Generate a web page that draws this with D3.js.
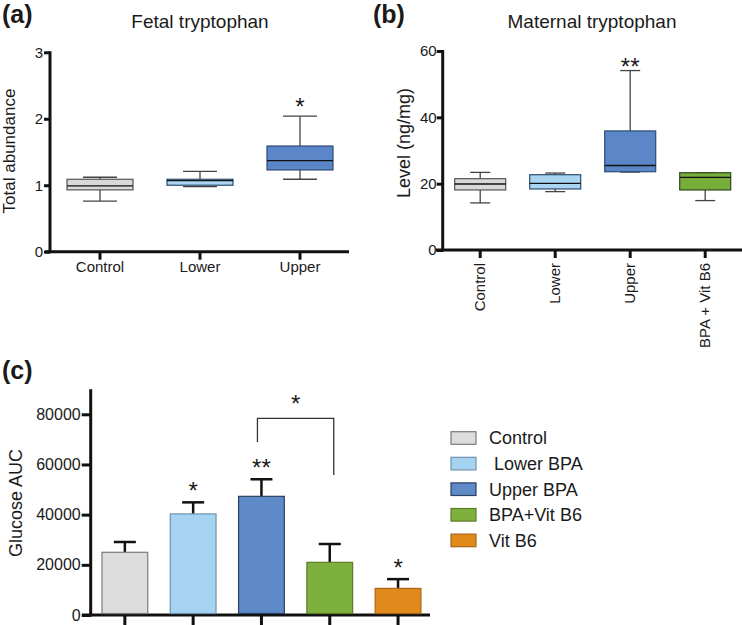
<!DOCTYPE html>
<html>
<head>
<meta charset="utf-8">
<script src="https://cdn.jsdelivr.net/npm/d3@7"></script>
<style>
  html, body { margin: 0; padding: 0; background: #fff; }
  svg { display: block; font-family: Arial, "Liberation Sans", Helvetica, sans-serif; }
  text { fill: #1a1a1a; }
</style>
</head>
<body>
<svg id="chart" width="742" height="625"></svg>
<script>
// ---------- Data ----------
// (a) Fetal tryptophan (box plots)
const fetalCats   = ["Control", "Lower", "Upper"];
const fetalMin    = [0.76, 0.98, 1.09];
const fetalQ1     = [0.93, 1.00, 1.23];
const fetalMedian = [0.99, 1.07, 1.37];
const fetalQ3     = [1.09, 1.09, 1.59];
const fetalMax    = [1.12, 1.21, 2.04];
const fetalColors = ["#d9d9d9", "#a9d4f2", "#5b86c7"];
const fetalStroke = ["#555555", "#2c4b6b", "#2e4a78"];
const fetalStars  = ["", "", "*"];
const fetalTicks  = [0, 1, 2, 3];

// (b) Maternal tryptophan (box plots)
const maternalCats   = ["Control", "Lower", "Upper", "BPA + Vit B6"];
const maternalMin    = [14.2, 17.6, 23.5, 14.9];
const maternalQ1     = [18.1, 18.4, 23.6, 18.1];
const maternalMedian = [19.9, 20.1, 25.5, 21.9];
const maternalQ3     = [21.5, 22.7, 35.9, 23.3];
const maternalMax    = [23.4, 23.2, 54.1, 23.3];
const maternalColors = ["#d9d9d9", "#a9d4f2", "#5b86c7", "#77ad3b"];
const maternalStroke = ["#555555", "#2c4b6b", "#2e4a78", "#2f4a1a"];
const maternalStars  = ["", "", "**", ""];
const maternalTicks  = [0, 20, 40, 60];

// (c) Glucose AUC (bar chart)
const glucoseCats   = ["Control", "Lower BPA", "Upper BPA", "BPA+Vit B6", "Vit B6"];
const glucoseMean   = [25000, 40300, 47300, 21000, 10600];
const glucoseErr    = [4100, 4600, 6800, 7300, 3700];
const glucoseColors = ["#dcdcdc", "#a6d3f2", "#5f8ac8", "#7db03c", "#e08a1c"];
const glucoseStroke = ["#7a7a7a", "#6f93ad", "#2b3f5e", "#5a7d2a", "#a8661a"];
const glucoseStars  = ["", "*", "**", "", "*"];
const glucoseTicks  = [0, 20000, 40000, 60000, 80000];
const legendLabels  = ["Control", " Lower BPA", "Upper BPA", "BPA+Vit B6", "Vit B6"];
const bracketPair   = [2, 3];            // Upper BPA vs BPA+Vit B6
const bracketLegs   = [69000, 55800];    // lower ends of bracket legs (value units)
const bracketTop    = 78400;

const svg = d3.select("#chart");
const AXC = "#111";

function styleAxis(g, fs) {
  g.select(".domain").remove();
  g.selectAll(".tick line").attr("stroke", AXC).attr("stroke-width", 3);
  g.selectAll(".tick text").attr("font-size", fs).attr("fill", "#1a1a1a");
}

// ---------- Panel (a) ----------
(function () {
  const x = d3.scaleBand().domain(fetalCats).range([50, 350]).padding(0);
  const y = d3.scaleLinear().domain([0, 3]).range([251.7, 52.3]);
  const bw = x.bandwidth() * 0.66;
  const g = svg.append("g");

  g.append("text").attr("x", 2).attr("y", 23).attr("font-size", 25).attr("font-weight", "bold").text("(a)");
  g.append("text").attr("x", 200).attr("y", 28).attr("text-anchor", "middle").attr("font-size", 19).text("Fetal tryptophan");
  g.append("text").attr("transform", "translate(15,151) rotate(-90)").attr("text-anchor", "middle").attr("font-size", 17).text("Total abundance");

  const ya = g.append("g").attr("transform", "translate(50,0)")
    .call(d3.axisLeft(y).tickValues(fetalTicks).tickSize(6).tickSizeOuter(0).tickPadding(1).tickFormat(d3.format("d")));
  styleAxis(ya, 15);
  const xa = g.append("g").attr("transform", `translate(0,${y(0)})`)
    .call(d3.axisBottom(x).tickSize(8).tickSizeOuter(0).tickPadding(2));
  styleAxis(xa, 15);
  g.append("line").attr("x1", 50).attr("x2", 50).attr("y1", y(3) - 1).attr("y2", y(0) + 1.5).attr("stroke", AXC).attr("stroke-width", 3);
  g.append("line").attr("x1", 45).attr("x2", 349).attr("y1", y(0)).attr("y2", y(0)).attr("stroke", AXC).attr("stroke-width", 3);

  fetalCats.forEach((c, i) => {
    const cx = x(c) + x.bandwidth() / 2;
    const b = g.append("g");
    b.append("line").attr("x1", cx).attr("x2", cx).attr("y1", y(fetalMax[i])).attr("y2", y(fetalQ3[i])).attr("stroke", "#444").attr("stroke-width", 1.3);
    b.append("line").attr("x1", cx).attr("x2", cx).attr("y1", y(fetalQ1[i])).attr("y2", y(fetalMin[i])).attr("stroke", "#444").attr("stroke-width", 1.3);
    b.append("line").attr("x1", cx - 17).attr("x2", cx + 17).attr("y1", y(fetalMax[i])).attr("y2", y(fetalMax[i])).attr("stroke", "#444").attr("stroke-width", 1.3);
    b.append("line").attr("x1", cx - 17).attr("x2", cx + 17).attr("y1", y(fetalMin[i])).attr("y2", y(fetalMin[i])).attr("stroke", "#444").attr("stroke-width", 1.3);
    b.append("rect").attr("x", cx - bw / 2).attr("y", y(fetalQ3[i])).attr("width", bw).attr("height", y(fetalQ1[i]) - y(fetalQ3[i]))
      .attr("fill", fetalColors[i]).attr("stroke", fetalStroke[i]).attr("stroke-width", 1.2);
    b.append("line").attr("x1", cx - bw / 2).attr("x2", cx + bw / 2).attr("y1", y(fetalMedian[i])).attr("y2", y(fetalMedian[i])).attr("stroke", "#111").attr("stroke-width", 1.4);
    if (fetalStars[i]) {
      g.append("text").attr("x", cx).attr("y", y(fetalMax[i]) - 1).attr("text-anchor", "middle").attr("font-size", 24).text(fetalStars[i]);
    }
  });
})();

// ---------- Panel (b) ----------
(function () {
  const x = d3.scaleBand().domain(maternalCats).range([442.7, 742.7]).padding(0);
  const y = d3.scaleLinear().domain([0, 60]).range([250, 51]);
  const bw = x.bandwidth() * 0.68;
  const g = svg.append("g");

  g.append("text").attr("x", 373).attr("y", 23).attr("font-size", 25).attr("font-weight", "bold").text("(b)");
  g.append("text").attr("x", 592).attr("y", 28).attr("text-anchor", "middle").attr("font-size", 19).text("Maternal tryptophan");
  g.append("text").attr("transform", "translate(410,143) rotate(-90)").attr("text-anchor", "middle").attr("font-size", 18).text("Level (ng/mg)");

  const ya = g.append("g").attr("transform", "translate(442.7,0)")
    .call(d3.axisLeft(y).tickValues(maternalTicks).tickSize(6).tickSizeOuter(0).tickPadding(0).tickFormat(d3.format("d")));
  styleAxis(ya, 15);
  const xa = g.append("g").attr("transform", `translate(0,${y(0)})`)
    .call(d3.axisBottom(x).tickSize(8).tickSizeOuter(0));
  styleAxis(xa, 15);
  xa.selectAll(".tick text").attr("transform", "rotate(-90)").attr("text-anchor", "end")
    .attr("x", -13).attr("y", 0).attr("dy", "0.35em");
  g.append("line").attr("x1", 442.7).attr("x2", 442.7).attr("y1", y(60) - 1).attr("y2", y(0) + 1.5).attr("stroke", AXC).attr("stroke-width", 3);
  g.append("line").attr("x1", 436).attr("x2", 742).attr("y1", y(0)).attr("y2", y(0)).attr("stroke", AXC).attr("stroke-width", 3);

  maternalCats.forEach((c, i) => {
    const cx = x(c) + x.bandwidth() / 2;
    const b = g.append("g");
    b.append("line").attr("x1", cx).attr("x2", cx).attr("y1", y(maternalMax[i])).attr("y2", y(maternalQ3[i])).attr("stroke", "#444").attr("stroke-width", 1.3);
    b.append("line").attr("x1", cx).attr("x2", cx).attr("y1", y(maternalQ1[i])).attr("y2", y(maternalMin[i])).attr("stroke", "#444").attr("stroke-width", 1.3);
    b.append("line").attr("x1", cx - 10).attr("x2", cx + 10).attr("y1", y(maternalMax[i])).attr("y2", y(maternalMax[i])).attr("stroke", "#444").attr("stroke-width", 1.3);
    b.append("line").attr("x1", cx - 10).attr("x2", cx + 10).attr("y1", y(maternalMin[i])).attr("y2", y(maternalMin[i])).attr("stroke", "#444").attr("stroke-width", 1.3);
    b.append("rect").attr("x", cx - bw / 2).attr("y", y(maternalQ3[i])).attr("width", bw).attr("height", y(maternalQ1[i]) - y(maternalQ3[i]))
      .attr("fill", maternalColors[i]).attr("stroke", maternalStroke[i]).attr("stroke-width", 1.2);
    b.append("line").attr("x1", cx - bw / 2).attr("x2", cx + bw / 2).attr("y1", y(maternalMedian[i])).attr("y2", y(maternalMedian[i])).attr("stroke", "#111").attr("stroke-width", 1.4);
    if (maternalStars[i]) {
      g.append("text").attr("x", cx).attr("y", y(maternalMax[i]) + 4).attr("text-anchor", "middle").attr("font-size", 24).text(maternalStars[i]);
    }
  });
})();

// ---------- Panel (c) ----------
(function () {
  const x = d3.scaleBand().domain(glucoseCats).range([90.7, 432.2]).padding(0);
  const y = d3.scaleLinear().domain([0, 90000]).range([615, 389.2]);
  const bw = x.bandwidth() * 0.67;
  const g = svg.append("g");

  g.append("text").attr("x", 2).attr("y", 379).attr("font-size", 25).attr("font-weight", "bold").text("(c)");
  g.append("text").attr("transform", "translate(22,503) rotate(-90)").attr("text-anchor", "middle").attr("font-size", 18).text("Glucose AUC");

  const ya = g.append("g").attr("transform", "translate(90.7,0)")
    .call(d3.axisLeft(y).tickValues(glucoseTicks).tickSize(9).tickSizeOuter(0).tickPadding(1).tickFormat(d3.format("d")));
  styleAxis(ya, 16);
  const xa = g.append("g").attr("transform", `translate(0,${y(0)})`)
    .call(d3.axisBottom(x).tickSize(12).tickSizeOuter(0).tickFormat(""));
  styleAxis(xa, 16);
  g.append("line").attr("x1", 90.7).attr("x2", 90.7).attr("y1", y(90000)).attr("y2", y(0) + 1.5).attr("stroke", AXC).attr("stroke-width", 3);
  g.append("line").attr("x1", 82).attr("x2", 430).attr("y1", y(0)).attr("y2", y(0)).attr("stroke", AXC).attr("stroke-width", 3);

  glucoseCats.forEach((c, i) => {
    const cx = x(c) + x.bandwidth() / 2;
    const top = glucoseMean[i] + glucoseErr[i];
    g.append("line").attr("x1", cx).attr("x2", cx).attr("y1", y(top)).attr("y2", y(glucoseMean[i])).attr("stroke", "#111").attr("stroke-width", 2.5);
    g.append("line").attr("x1", cx - 11).attr("x2", cx + 11).attr("y1", y(top)).attr("y2", y(top)).attr("stroke", "#111").attr("stroke-width", 2.5);
    g.append("rect").attr("x", cx - bw / 2).attr("y", y(glucoseMean[i])).attr("width", bw).attr("height", y(0) - y(glucoseMean[i]) - 1.5)
      .attr("fill", glucoseColors[i]).attr("stroke", glucoseStroke[i]).attr("stroke-width", 1.2);
    if (glucoseStars[i]) {
      g.append("text").attr("x", cx).attr("y", y(top) - 3).attr("text-anchor", "middle").attr("font-size", 24).text(glucoseStars[i]);
    }
  });

  // significance bracket
  const bx1 = x(glucoseCats[bracketPair[0]]) + x.bandwidth() / 2 - 4;
  const bx2 = x(glucoseCats[bracketPair[1]]) + x.bandwidth() / 2 + 4;
  g.append("path")
    .attr("d", `M${bx1},${y(bracketLegs[0])}V${y(bracketTop)}H${bx2}V${y(bracketLegs[1])}`)
    .attr("fill", "none").attr("stroke", "#333").attr("stroke-width", 1.3);
  g.append("text").attr("x", (bx1 + bx2) / 2).attr("y", y(bracketTop) - 6).attr("text-anchor", "middle").attr("font-size", 24).text("*");

  // legend
  const lg = g.append("g");
  legendLabels.forEach((lab, i) => {
    const yy = 444.3 + i * 25.6;
    lg.append("rect").attr("x", 451).attr("y", yy - 12.6).attr("width", 25).attr("height", 12.6)
      .attr("fill", glucoseColors[i]).attr("stroke", glucoseStroke[i]).attr("stroke-width", 1.2);
    lg.append("text").attr("x", 489).attr("y", yy).attr("font-size", 18).attr("xml:space", "preserve").style("white-space", "pre").text(lab);
  });
})();
</script>
</body>
</html>
